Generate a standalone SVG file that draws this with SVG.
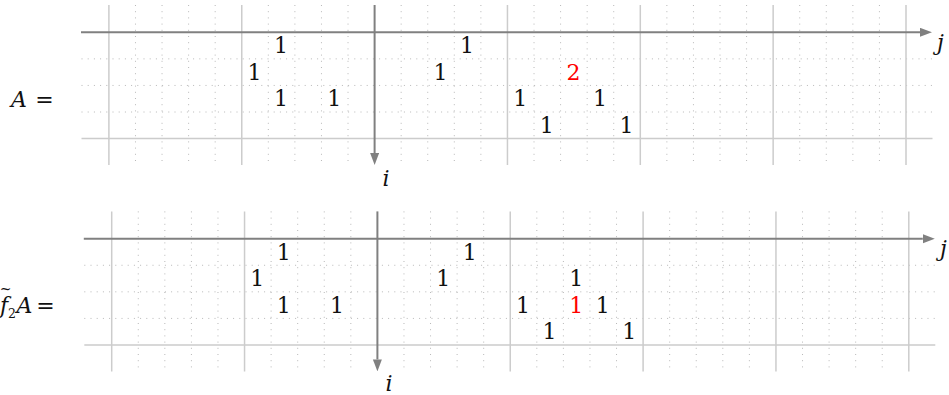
<svg xmlns="http://www.w3.org/2000/svg" xmlns:xlink="http://www.w3.org/1999/xlink" width="949" height="395" viewBox="0 0 949 395">
<style>
.maj{fill:none;stroke:#cccccc;stroke-width:1.5}
.dot{fill:none;stroke:#b8b8b8;stroke-width:1;stroke-dasharray:1 5.2}
.axis{fill:none;stroke:#808080;stroke-width:2}
.r{fill:#ff0000}
</style>
<defs>
<marker id="ah" markerUnits="userSpaceOnUse" markerWidth="12" markerHeight="10" refX="0" refY="4.5" orient="auto">
<path d="M0,0 L12,4.5 L0,9 z" fill="#808080"/>
</marker>
<g id="grid">
<path class="dot" d="M135.47 5V165M162.04 5V165M188.61 5V165M215.18 5V165M268.32 5V165M294.89 5V165M321.46 5V165M348.03 5V165M401.17 5V165M427.74 5V165M454.31 5V165M480.88 5V165M534.02 5V165M560.59 5V165M587.16 5V165M613.73 5V165M666.87 5V165M693.44 5V165M720.01 5V165M746.58 5V165M799.72 5V165M826.29 5V165M852.86 5V165M879.43 5V165"/>
<path class="dot" d="M81.5 58.87H932.5M81.5 85.44H932.5M81.5 112.01H932.5"/>
<path class="maj" d="M108.9 5V165M241.75 5V165M507.45 5V165M640.3 5V165M773.15 5V165M906 5V165M81.5 138.58H932.5"/>
<path class="axis" d="M81 32.3H920" marker-end="url(#ah)"/>
<path class="axis" d="M374.6 5V153" marker-end="url(#ah)"/>
</g>
</defs>

<g id="panel-A" font-family="'DejaVu Serif', serif" font-size="22" fill="#111">
<use xlink:href="#grid"/>
<g id="label-A"><text font-style="italic" x="11" y="106.5">A</text><text text-anchor="middle" x="44.5" y="106.5">=</text></g>
<text font-style="italic" text-anchor="middle" x="386" y="186">i</text>
<text font-style="italic" x="937" y="50">j</text>
<g id="entries-A" text-anchor="middle">
<text x="281" y="53.3">1</text>
<text x="467" y="53.3">1</text>
<text x="254.5" y="79.9">1</text>
<text x="440.5" y="79.9">1</text>
<text class="r" x="573.4" y="79.9">2</text>
<text x="281" y="106.4">1</text>
<text x="334.2" y="106.4">1</text>
<text x="520.2" y="106.4">1</text>
<text x="599.9" y="106.4">1</text>
<text x="546.8" y="133">1</text>
<text x="626.5" y="133">1</text>
</g>
</g>

<g id="panel-f2A" font-family="'DejaVu Serif', serif" font-size="22" fill="#111">
<use xlink:href="#grid" transform="translate(2.8 206.4)"/>
<g id="label-f2A">
<text font-style="italic" x="0" y="313">f</text>
<text font-size="14" text-anchor="middle" x="5.5" y="293.5">~</text>
<text font-size="12.5" x="8" y="318">2</text>
<text font-style="italic" x="16.5" y="313">A</text>
<text text-anchor="middle" x="45.5" y="313">=</text>
</g>
<text font-style="italic" text-anchor="middle" x="389" y="390.5">i</text>
<text font-style="italic" x="940" y="256.4">j</text>
<g id="entries-f2A" text-anchor="middle">
<text x="283.8" y="259.7">1</text>
<text x="469.8" y="259.7">1</text>
<text x="257.3" y="286.3">1</text>
<text x="443.3" y="286.3">1</text>
<text x="576.2" y="286.3">1</text>
<text x="283.8" y="312.8">1</text>
<text x="337" y="312.8">1</text>
<text x="523" y="312.8">1</text>
<text class="r" x="576.2" y="312.8">1</text>
<text x="602.7" y="312.8">1</text>
<text x="549.6" y="339.4">1</text>
<text x="629.3" y="339.4">1</text>
</g>
</g>
</svg>
